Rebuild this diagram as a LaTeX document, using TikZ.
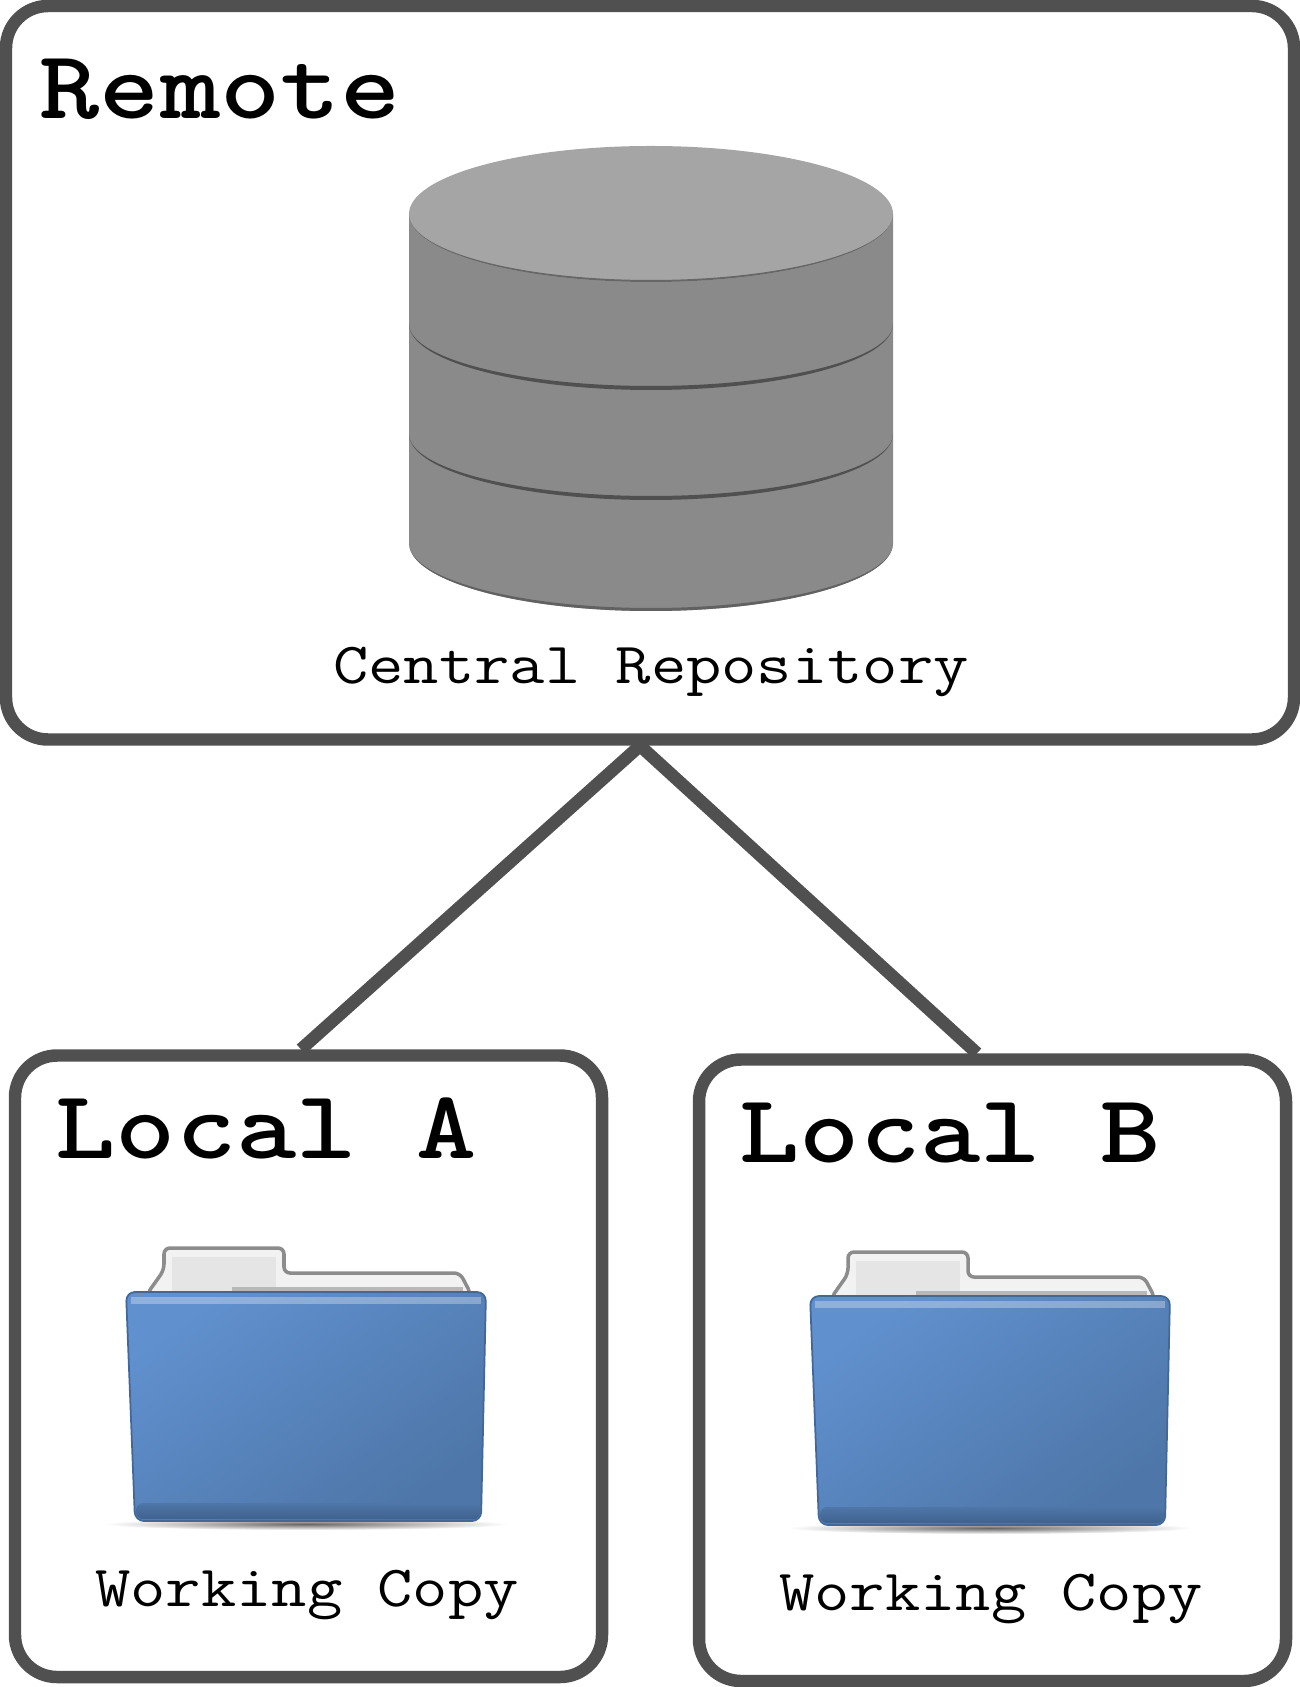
\documentclass[tikz,border=0pt]{standalone}
\usepackage{graphicx}
\usepackage{xcolor}
\usepackage{tikz}

\definecolor{framegray}{HTML}{505050}
\definecolor{drumside}{HTML}{8A8A8A}
\definecolor{drumtop}{HTML}{A5A5A5}
\definecolor{drumline}{HTML}{505050}
\definecolor{folderlight}{HTML}{6090CE}
\definecolor{folderdark}{HTML}{4E76A8}
\definecolor{folderedge}{HTML}{42689A}
\definecolor{folderfoot}{HTML}{3F628F}

\newcommand{\lowtext}[1]{\scalebox{1}[0.85]{#1}}

\tikzset{
  folder/.pic={
    \shade [inner color=black!60,outer color=white] (0,-0.03) ellipse [x radius=2.02,y radius=0.06];
    \draw [draw=black!45,fill=black!5,line width=1pt,rounded corners=0.06cm] (-1.59,2.27) -- (-1.42,2.51) -- (-1.42,2.73) -- (-0.22,2.73) -- (-0.22,2.48) -- (1.54,2.48) -- (1.65,2.27) -- cycle;
    \fill [black!10] (-1.34,2.29) rectangle (-0.30,2.64);
    \fill [black!28] (-0.74,2.27) rectangle (1.57,2.34);
    \shade [left color=folderlight,right color=folderdark,shading angle=35,draw=folderedge,line width=0.5pt,rounded corners=0.09cm] (-1.80,2.29) -- (1.80,2.29) -- (1.75,0) -- (-1.71,0) -- cycle;
    \fill [white,opacity=0.3] (-1.75,2.24) rectangle (1.75,2.17);
    \shade [top color=folderdark,bottom color=folderfoot,rounded corners=0.07cm] (-1.70,0.18) -- (1.74,0.18) -- (1.74,0.02) -- (-1.70,0.02) -- cycle;
  }
}

\begin{document}
\begin{tikzpicture}
    [box/.style={shape=rectangle,draw=framegray,fill=white,line width=3.55pt,rounded corners=0.42cm,inner sep=0pt},
    title/.style={anchor=base west,inner sep=0pt,font=\fontsize{32.6}{36}\selectfont\ttfamily\bfseries},
    caption/.style={anchor=base,inner sep=0pt,font=\fontsize{19.5}{22}\selectfont\ttfamily},
    link/.style={draw=framegray,line width=3.6pt}]

    \useasboundingbox (0,0) rectangle (13,-16.87);

    \node (remote) [box,minimum width=12.88cm,minimum height=7.335cm] at (6.5,-3.7275) {};
    \node (locala) [box,minimum width=5.87cm,minimum height=6.215cm] at (3.085,-13.6625) {};
    \node (localb) [box,minimum width=5.87cm,minimum height=6.215cm] at (9.925,-13.7025) {};

    \node (remotetitle) [title] at (0.39,-1.19) {\lowtext{Remote}};
    \node (localatitle) [title] at (0.55,-11.58) {\lowtext{Local A}};
    \node (localbtitle) [title] at (7.39,-11.62) {\lowtext{Local B}};

    \draw [link] ([xshift=-0.1cm]remote.south) -- ([xshift=-0.075cm]locala.north);
    \draw [link] ([xshift=-0.1cm]remote.south) -- ([xshift=-0.155cm]localb.north);

    % database
    \fill [drumside] (4.09,-2.14) -- (4.09,-5.43) arc [start angle=180,end angle=360,x radius=2.42,y radius=0.68] -- (8.93,-2.14) -- cycle;
    \fill [drumline] (4.09,-3.24) arc [start angle=180,end angle=360,x radius=2.42,y radius=0.66] arc [start angle=0,end angle=-180,x radius=2.42,y radius=0.62];
    \fill [drumline] (4.09,-4.34) arc [start angle=180,end angle=360,x radius=2.42,y radius=0.66] arc [start angle=0,end angle=-180,x radius=2.42,y radius=0.62];
    \fill [drumline!70!drumside] (4.09,-5.43) arc [start angle=180,end angle=360,x radius=2.42,y radius=0.68] arc [start angle=0,end angle=-180,x radius=2.42,y radius=0.65];
    \fill [drumtop] (6.51,-2.14) ellipse [x radius=2.42,y radius=0.68];
    \fill [drumline!60!drumside] (4.09,-2.14) arc [start angle=180,end angle=360,x radius=2.42,y radius=0.68] arc [start angle=0,end angle=-180,x radius=2.42,y radius=0.66];
    \node (remotecaption) [caption] at (6.51,-6.83) {\lowtext{Central Repository}};

    \pic at (3.06,-15.21) {folder};
    \pic at (9.90,-15.25) {folder};
    \node (localacaption) [caption] at (3.07,-16.06) {\lowtext{Working Copy}};
    \node (localbcaption) [caption] at (9.91,-16.10) {\lowtext{Working Copy}};
\end{tikzpicture}
\end{document}
